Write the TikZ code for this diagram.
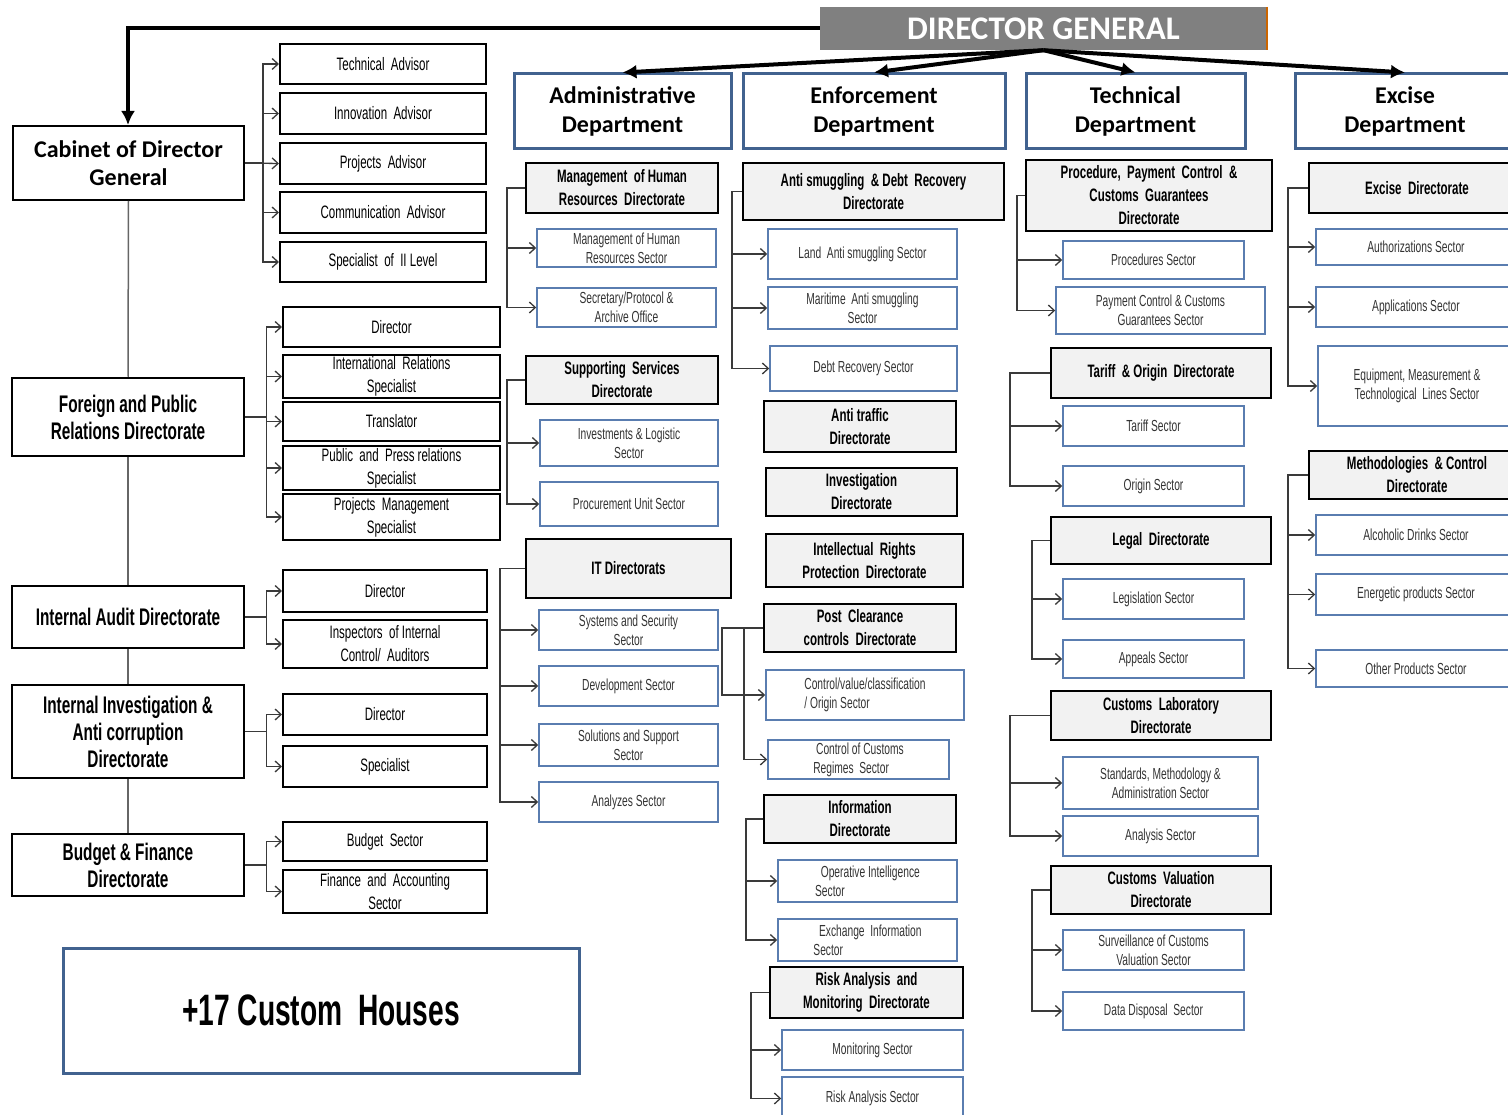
\documentclass[tikz,border=0pt]{standalone}
\usepackage{fontspec}
\setmainfont{Carlito}
\newfontfamily\narrowfont[FakeStretch=0.64]{Liberation Sans}
\usetikzlibrary{arrows.meta}
\definecolor{dggray}{HTML}{808080}
\definecolor{deptblue}{HTML}{41628F}
\definecolor{secblue}{HTML}{5A7DB0}
\definecolor{dirfill}{HTML}{F2F2F2}
\definecolor{linkgray}{HTML}{3A3A3A}
\tikzset{
  sz/.style 2 args={minimum width=#1pt, minimum height=#2pt},
  base/.style={inner sep=0pt, align=center},
  dgbox/.style={base, fill=dggray, text=white, font=\fontsize{33}{40}\selectfont\bfseries},
  deptbox/.style={base, draw=deptblue, line width=3pt, font=\fontsize{24}{29}\selectfont\bfseries},
  cabbox/.style={base, draw=black, line width=2pt, font=\fontsize{24}{28}\selectfont\bfseries},
  leftbox/.style={base, draw=black, line width=2.5pt, font=\narrowfont\bfseries\fontsize{24}{27}\selectfont},
  advbox/.style={base, draw=black, line width=2pt, font=\narrowfont\fontsize{18}{23}\selectfont},
  dirbox/.style={base, draw=black, line width=2pt, fill=dirfill, font=\narrowfont\bfseries\fontsize{18}{23}\selectfont},
  secbox/.style={base, draw=secblue, line width=1.5pt, text=black!80, font=\narrowfont\fontsize{16}{19}\selectfont},
  housebox/.style={base, draw=deptblue, line width=3pt, font=\narrowfont\bfseries\fontsize{44}{50}\selectfont},
  link/.style={draw=linkgray, line width=1.3pt, -{Straight Barb[length=6pt,width=11pt]}},
  spine/.style={draw=black!60, line width=1.5pt},
  topline/.style={line width=4pt, -{Latex[length=14pt,width=14pt]}}
}
\begin{document}
\begin{tikzpicture}[x=1pt,y=-1pt]
\useasboundingbox (0,0) rectangle (1508,1115);
% top
\node[dgbox, sz={447}{43}] (dg) at (1043.5,28.5) {DIRECTOR GENERAL};
\draw[orange!80!black, line width=2pt] (dg.north east) -- (dg.south east);
\node[deptbox, sz={217}{75}] (adm) at (622.5,111.5) {Administrative\\Department};
\node[deptbox, sz={262}{75}] (enf) at (874,111.5) {Enforcement\\Department};
\node[deptbox, sz={219}{75}] (tec) at (1135.5,111.5) {Technical\\Department};
\node[deptbox, sz={220}{75}] (exc) at (1405,111.5) {Excise\\Department};
\draw[topline] (dg.west) -| (128,125);
\draw[topline] (dg.south) -- (adm.north);
\draw[topline] (dg.south) -- (enf.north);
\draw[topline] (dg.south) -- (tec.north);
\draw[topline] (dg.south) -- (exc.north);

% left column
\node[cabbox, sz={231}{74}] (cab) at (128.5,163) {Cabinet of Director\\General};
\node[leftbox, sz={232}{78}] (fpr) at (128,417) {Foreign and Public\\Relations Directorate};
\node[leftbox, sz={232}{62}] (aud) at (128,617) {Internal Audit Directorate};
\node[leftbox, sz={232}{93}] (iic) at (128,731.5) {Internal Investigation \&\\Anti corruption\\Directorate};
\node[leftbox, sz={232}{62}] (bud) at (128,865) {Budget \& Finance\\Directorate};
\draw[spine] (cab.south) -- (fpr.north);
\draw[spine] (fpr.south) -- (aud.north);
\draw[spine] (aud.south) -- (iic.north);
\draw[spine] (iic.south) -- (bud.north);

\node[advbox, sz={206}{40}] (tadv) at (383,64) {Technical~~Advisor};
\node[advbox, sz={206}{41}] (iadv) at (383,113.5) {Innovation~~Advisor};
\node[advbox, sz={206}{41}] (padv) at (383,163.5) {Projects~~Advisor};
\node[advbox, sz={206}{41}] (cadv) at (383,212.5) {Communication~~Advisor};
\node[advbox, sz={206}{40}] (spec) at (383,262) {Specialist~~of~~II Level};
\draw[link] (cab.east) -- ++(18,0) |- (tadv.west);
\draw[link] (cab.east) -- ++(18,0) |- (iadv.west);
\draw[link] (cab.east) -- (padv.west);
\draw[link] (cab.east) -- ++(18,0) |- (cadv.west);
\draw[link] (cab.east) -- ++(18,0) |- (spec.west);

\node[advbox, sz={217}{40}] (fdir) at (391.5,327) {Director};
\node[advbox, sz={217}{43}] (fint) at (391.5,376.5) {International~~Relations\\Specialist};
\node[advbox, sz={217}{39}] (ftra) at (391.5,421.5) {Translator};
\node[advbox, sz={217}{44}] (fpub) at (391.5,468) {Public~~and~~Press relations\\Specialist};
\node[advbox, sz={217}{46}] (fprj) at (391.5,517) {Projects~~Management\\Specialist};
\draw[link] (fpr.east) -- ++(21,0) |- (fdir.west);
\draw[link] (fpr.east) -- ++(21,0) |- (fint.west);
\draw[link] (fpr.east) -- ++(21,0) |- (ftra.west);
\draw[link] (fpr.east) -- ++(21,0) |- (fpub.west);
\draw[link] (fpr.east) -- ++(21,0) |- (fprj.west);

\node[advbox, sz={204}{42}] (adir) at (385,591) {Director};
\node[advbox, sz={204}{48}] (ains) at (385,644) {Inspectors~~of Internal\\Control/~~Auditors};
\draw[link] (aud.east) -- ++(21,0) |- (adir.west);
\draw[link] (aud.east) -- ++(21,0) |- (ains.west);

\node[advbox, sz={204}{41}] (idir) at (385,714.5) {Director};
\node[advbox, sz={204}{41}] (ispc) at (385,766.5) {Specialist};
\draw[link] (iic.east) -- ++(21,0) |- (idir.west);
\draw[link] (iic.east) -- ++(21,0) |- (ispc.west);

\node[advbox, sz={204}{39}] (bsec) at (385,841.5) {Budget~~Sector};
\node[advbox, sz={204}{43}] (bfin) at (385,891.5) {Finance~~and~~Accounting\\Sector};
\draw[link] (bud.east) -- ++(21,0) |- (bsec.west);
\draw[link] (bud.east) -- ++(21,0) |- (bfin.west);

\node[housebox, sz={516}{125}] (houses) at (321,1010.5) {+17 Custom~~Houses};

% administrative
\node[dirbox, sz={192}{50}] (hr) at (622,188) {Management~~of Human\\Resources~~Directorate};
\node[secbox, sz={179}{38}] (hr1) at (626.5,248) {Management of Human\\Resources Sector};
\node[secbox, sz={179}{39}] (hr2) at (626.5,307.5) {Secretary/Protocol \&\\Archive Office};
\draw[link] (hr.west) -- ++(-18,0) |- (hr1.west);
\draw[link] (hr.west) -- ++(-18,0) |- (hr2.west);
\node[dirbox, sz={192}{48}] (ss) at (622,380) {Supporting~~Services\\Directorate};
\node[secbox, sz={178}{46}] (ss1) at (629,443) {Investments \& Logistic\\Sector};
\node[secbox, sz={178}{44}] (ss2) at (629,504) {Procurement Unit Sector};
\draw[link] (ss.west) -- ++(-18,0) |- (ss1.west);
\draw[link] (ss.west) -- ++(-18,0) |- (ss2.west);
\node[dirbox, sz={205}{59}] (it) at (628.5,568.5) {IT Directorats};
\node[secbox, sz={179}{40}] (it1) at (628.5,630) {Systems and Security\\Sector};
\node[secbox, sz={179}{40}] (it2) at (628.5,686) {Development Sector};
\node[secbox, sz={179}{42}] (it3) at (628.5,745) {Solutions and Support\\Sector};
\node[secbox, sz={179}{40}] (it4) at (628.5,802) {Analyzes Sector};
\draw[link] (it.west) -- ++(-25,0) |- (it1.west);
\draw[link] (it.west) -- ++(-25,0) |- (it2.west);
\draw[link] (it.west) -- ++(-25,0) |- (it3.west);
\draw[link] (it.west) -- ++(-25,0) |- (it4.west);

% enforcement
\node[dirbox, sz={261}{57}] (asd) at (873.5,191.5) {Anti smuggling~~\& Debt~~Recovery\\Directorate};
\node[secbox, sz={189}{50}] (as1) at (862.5,254) {Land~~Anti smuggling Sector};
\node[secbox, sz={189}{42}] (as2) at (862.5,308) {Maritime~~Anti smuggling\\Sector};
\node[secbox, sz={187}{45}] (as3) at (863.5,368.5) {Debt Recovery Sector};
\draw[link] (asd.west) -- ++(-10,0) |- (as1.west);
\draw[link] (asd.west) -- ++(-10,0) |- (as2.west);
\draw[link] (asd.west) -- ++(-10,0) |- (as3.west);
\node[dirbox, sz={192}{51}] (atr) at (860,426.5) {Anti traffic\\Directorate};
\node[dirbox, sz={191}{48}] (inv) at (861.5,492) {Investigation\\Directorate};
\node[dirbox, sz={197}{53}] (ipr) at (864.5,560.5) {Intellectual~~Rights\\Protection~~Directorate};
\node[dirbox, sz={192}{48}] (pcc) at (860,628) {Post~~Clearance\\controls~~Directorate};
\node[secbox, sz={198}{50}, align=left] (pc1) at (865,695) {Control/value/classification\\/ Origin Sector};
\node[secbox, sz={181}{39}, align=left] (pc2) at (858.5,759.5) {~Control of Customs\\Regimes~~Sector};
\draw[link] (pcc.west) -- ++(-41,0) |- (pc1.west);
\draw[link] (pcc.west) -- ++(-19,0) |- (pc2.west);
\node[dirbox, sz={192}{48}] (inf) at (860,819) {Information\\Directorate};
\node[secbox, sz={179}{42}, align=left] (inf1) at (867.5,881) {~~Operative Intelligence\\Sector};
\node[secbox, sz={179}{42}, align=left] (inf2) at (867.5,940) {~~Exchange~~Information\\Sector};
\draw[link] (inf.west) -- ++(-17,0) |- (inf1.west);
\draw[link] (inf.west) -- ++(-17,0) |- (inf2.west);
\node[dirbox, sz={193}{51}] (ram) at (866.5,992.5) {Risk Analysis~~and\\Monitoring~~Directorate};
\node[secbox, sz={181}{40}] (ram1) at (872.5,1050) {Monitoring Sector};
\node[secbox, sz={181}{43}] (ram2) at (872.5,1098.5) {Risk Analysis Sector};
\draw[link] (ram.west) -- ++(-18,0) |- (ram1.west);
\draw[link] (ram.west) -- ++(-18,0) |- (ram2.west);

% technical
\node[dirbox, sz={246}{71}] (ppc) at (1149,195.5) {Procedure,~~Payment~~Control~~\&\\Customs~~Guarantees\\Directorate};
\node[secbox, sz={181}{38}] (pp1) at (1153.5,260) {Procedures Sector};
\node[secbox, sz={209}{47}] (pp2) at (1160.5,310.5) {Payment Control \& Customs\\Guarantees Sector};
\draw[link] (ppc.west) -- ++(-8,0) |- (pp1.west);
\draw[link] (ppc.west) -- ++(-8,0) |- (pp2.west);
\node[dirbox, sz={220}{50}] (tor) at (1161,373) {Tariff~~\& Origin~~Directorate};
\node[secbox, sz={181}{40}] (to1) at (1153.5,426) {Tariff Sector};
\node[secbox, sz={181}{40}] (to2) at (1153.5,486) {Origin Sector};
\draw[link] (tor.west) -- ++(-40,0) |- (to1.west);
\draw[link] (tor.west) -- ++(-40,0) |- (to2.west);
\node[dirbox, sz={220}{47}] (lgl) at (1161,540.5) {Legal~~Directorate};
\node[secbox, sz={181}{40}] (lg1) at (1153.5,599) {Legislation Sector};
\node[secbox, sz={181}{38}] (lg2) at (1153.5,659) {Appeals Sector};
\draw[link] (lgl.west) -- ++(-18,0) |- (lg1.west);
\draw[link] (lgl.west) -- ++(-18,0) |- (lg2.west);
\node[dirbox, sz={220}{49}] (lab) at (1161,715.5) {Customs~~Laboratory\\Directorate};
\node[secbox, sz={195}{52}] (cl1) at (1160.5,783) {Standards, Methodology \&\\Administration Sector};
\node[secbox, sz={195}{40}] (cl2) at (1160.5,836) {Analysis Sector};
\draw[link] (lab.west) -- ++(-40,0) |- (cl1.west);
\draw[link] (lab.west) -- ++(-40,0) |- (cl2.west);
\node[dirbox, sz={220}{48}] (val) at (1161,890) {Customs~~Valuation\\Directorate};
\node[secbox, sz={181}{40}] (cv1) at (1153.5,950) {Surveillance of Customs\\Valuation Sector};
\node[secbox, sz={181}{38}] (cv2) at (1153.5,1011) {Data Disposal~~Sector};
\draw[link] (val.west) -- ++(-18,0) |- (cv1.west);
\draw[link] (val.west) -- ++(-18,0) |- (cv2.west);

% excise
\node[dirbox, sz={216}{50}] (exd) at (1417,188) {Excise~~Directorate};
\node[secbox, sz={200}{36}] (ex1) at (1416,247) {Authorizations Sector};
\node[secbox, sz={200}{40}] (ex2) at (1416,307) {Applications Sector};
\node[secbox, sz={198}{80}] (ex3) at (1417,386) {Equipment, Measurement \&\\Technological~~Lines Sector};
\draw[link] (exd.west) -- ++(-20,0) |- (ex1.west);
\draw[link] (exd.west) -- ++(-20,0) |- (ex2.west);
\draw[link] (exd.west) -- ++(-20,0) |- (ex3.west);
\node[dirbox, sz={216}{48}] (mcd) at (1417,475) {Methodologies~~\& Control\\Directorate};
\node[secbox, sz={200}{40}] (mc1) at (1416,535) {Alcoholic Drinks Sector};
\node[secbox, sz={200}{41}] (mc2) at (1416,594.5) {Energetic products Sector};
\node[secbox, sz={200}{37}] (mc3) at (1416,668.5) {Other Products Sector};
\draw[link] (mcd.west) -- ++(-20,0) |- (mc1.west);
\draw[link] (mcd.west) -- ++(-20,0) |- (mc2.west);
\draw[link] (mcd.west) -- ++(-20,0) |- (mc3.west);
\end{tikzpicture}
\end{document}
